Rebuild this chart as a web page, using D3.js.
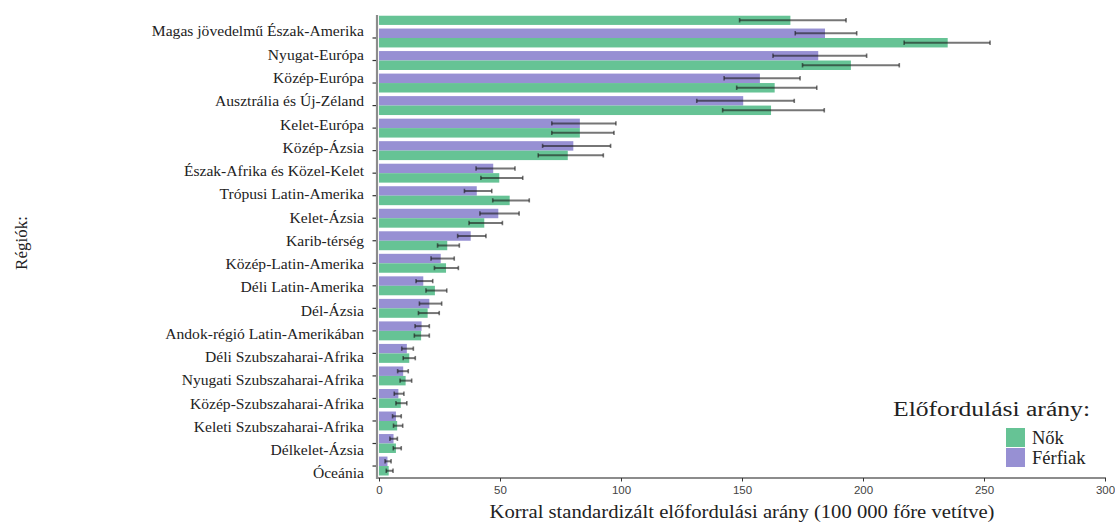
<!DOCTYPE html>
<html>
<head>
<meta charset="utf-8">
<script src="https://cdn.jsdelivr.net/npm/d3@7"></script>
<style>
  html, body { margin: 0; padding: 0; background: #fff; }
  svg { display: block; }
</style>
</head>
<body>
<svg id="chart" width="1115" height="525"></svg>
<script>
// Régiók (the first row is cut off at the top of the panel and carries no label)
const regions = [
  "",
  "Magas jövedelmű Észak-Amerika",
  "Nyugat-Európa",
  "Közép-Európa",
  "Ausztrália és Új-Zéland",
  "Kelet-Európa",
  "Közép-Ázsia",
  "Észak-Afrika és Közel-Kelet",
  "Trópusi Latin-Amerika",
  "Kelet-Ázsia",
  "Karib-térség",
  "Közép-Latin-Amerika",
  "Déli Latin-Amerika",
  "Dél-Ázsia",
  "Andok-régió Latin-Amerikában",
  "Déli Szubszaharai-Afrika",
  "Nyugati Szubszaharai-Afrika",
  "Közép-Szubszaharai-Afrika",
  "Keleti Szubszaharai-Afrika",
  "Délkelet-Ázsia",
  "Óceánia"
];

// Nők: rate, lower and upper bound
const womenRate = [170, 235, 195, 163.5, 162, 83, 78, 49.7, 54, 43.5, 28.2, 27.7, 23.1, 20.1, 17.4, 12.5, 11, 9, 7.5, 7, 4];
const womenLow  = [149, 217, 175, 147.8, 142, 71.4, 65.8, 42.1, 47, 37.2, 24.2, 22.9, 19.4, 16.3, 14.6, 10, 8.7, 7, 6, 5.9, 3];
const womenHigh = [193, 252.5, 215, 180.9, 184, 97.1, 92.7, 59.4, 62.1, 51, 33.2, 32.8, 28, 24.9, 20.8, 15, 13.5, 11.5, 9.8, 9.2, 5.8];

// Férfiak: rate, lower and upper bound
const menRate = [null, 184.3, 181.5, 157.4, 150.5, 83, 80.3, 47.2, 40.4, 49.3, 37.9, 25.5, 18.3, 20.8, 17.6, 11.5, 10, 8, 7, 6, 3.5];
const menLow  = [null, 172, 162.8, 142.6, 131.3, 71.4, 67.6, 40.1, 35.3, 41.7, 32.5, 21.5, 15.3, 16.7, 14.9, 9.4, 7.7, 6.3, 5.6, 4.5, 2.5];
const menHigh = [null, 197.4, 201.5, 174, 171.6, 97.9, 95.7, 56.2, 46.6, 57.9, 44.2, 31.1, 22.2, 25.9, 20.8, 14.2, 12.1, 10.3, 9.2, 7.6, 5];

const xTicks = [0, 50, 100, 150, 200, 250, 300];
const groups = ["Férfiak", "Nők"];
const legendKeys = ["Nők", "Férfiak"];

const colors = { "Nők": "#66c395", "Férfiak": "#9790d3" };

const serif = "'Liberation Serif', 'DejaVu Serif', serif";

const svg = d3.select("#chart");

const plot = { left: 379, right: 1105, top: 15.5, bottom: 478 };

const x = d3.scaleLinear().domain([0, 300]).range([plot.left, plot.right]);

const y = d3.scaleBand()
  .domain(regions)
  .range([4.2, 477.3])
  .paddingInner(0.16)
  .paddingOuter(0.08);

const ySub = d3.scaleBand().domain(groups).range([0, y.bandwidth()]);

// label rows are spaced a little wider than the bar rows
const yLabel = d3.scalePoint().domain(regions.slice(1)).range([31, 473]);

const rows = regions.map((r, i) => ({
  region: r,
  values: [
    { group: "Férfiak", v: menRate[i], lo: menLow[i], hi: menHigh[i] },
    { group: "Nők", v: womenRate[i], lo: womenLow[i], hi: womenHigh[i] }
  ].filter(d => d.v != null)
}));

svg.append("defs").append("clipPath").attr("id", "panel")
  .append("rect")
  .attr("x", plot.left - 2).attr("y", plot.top)
  .attr("width", plot.right - plot.left + 10).attr("height", plot.bottom - plot.top);

const panel = svg.append("g").attr("clip-path", "url(#panel)");

const rowG = panel.selectAll("g.row").data(rows).join("g")
  .attr("class", "row")
  .attr("transform", d => `translate(0,${y(d.region)})`);

rowG.selectAll("rect").data(d => d.values).join("rect")
  .attr("x", x(0))
  .attr("y", d => ySub(d.group))
  .attr("width", d => x(d.v) - x(0))
  .attr("height", ySub.bandwidth())
  .attr("fill", d => colors[d.group]);

// confidence intervals
const err = rowG.selectAll("g.err").data(d => d.values).join("g")
  .attr("class", "err")
  .attr("transform", d => `translate(0,${ySub(d.group) + ySub.bandwidth() / 2})`)
  .attr("stroke", "#1a1a1a")
  .attr("stroke-opacity", 0.6);

err.append("line")
  .attr("x1", d => x(d.lo)).attr("x2", d => x(d.hi))
  .attr("y1", 0).attr("y2", 0)
  .attr("stroke-width", 2);
err.append("line")
  .attr("x1", d => x(d.lo)).attr("x2", d => x(d.lo))
  .attr("y1", -2.2).attr("y2", 2.2)
  .attr("stroke-width", 1.6);
err.append("line")
  .attr("x1", d => x(d.hi)).attr("x2", d => x(d.hi))
  .attr("y1", -2.2).attr("y2", 2.2)
  .attr("stroke-width", 1.6);

// y axis line and ticks
svg.append("line")
  .attr("x1", plot.left - 2).attr("x2", plot.left - 2)
  .attr("y1", plot.top - 0.5).attr("y2", plot.bottom + 1)
  .attr("stroke", "#8c8c8c").attr("stroke-width", 2.2);

svg.append("g").selectAll("line").data(regions.slice(1)).join("line")
  .attr("x1", plot.left - 6.5).attr("x2", plot.left - 3)
  .attr("y1", d => y(d) + y.bandwidth() / 2)
  .attr("y2", d => y(d) + y.bandwidth() / 2)
  .attr("stroke", "#333").attr("stroke-width", 1.2);

svg.append("g").selectAll("text").data(regions.slice(1)).join("text")
  .attr("x", 364)
  .attr("y", d => yLabel(d))
  .attr("dy", "0.35em")
  .attr("text-anchor", "end")
  .attr("font-family", serif)
  .attr("font-size", 15.6)
  .attr("fill", "#222")
  .text(d => d);

// x axis
const xAxis = svg.append("g")
  .attr("transform", `translate(0,${plot.bottom})`)
  .call(d3.axisBottom(x).tickValues(xTicks).tickSize(3.5).tickSizeOuter(0).tickPadding(4));
xAxis.select(".domain").remove();
xAxis.insert("line", ":first-child")
  .attr("x1", plot.left - 3).attr("x2", plot.right + 1)
  .attr("y1", 0).attr("y2", 0)
  .attr("stroke", "#8c8c8c").attr("stroke-width", 2.2);
xAxis.selectAll(".tick line").attr("stroke", "#333");
xAxis.selectAll(".tick text")
  .attr("font-family", "'Liberation Sans Narrow', 'Liberation Sans', Arial, sans-serif")
  .attr("font-size", 11.5)
  .attr("fill", "#444");

// axis titles
svg.append("text")
  .attr("x", (plot.left + plot.right) / 2)
  .attr("y", 518)
  .attr("text-anchor", "middle")
  .attr("font-family", serif)
  .attr("font-size", 19.5)
  .attr("textLength", 505)
  .attr("lengthAdjust", "spacingAndGlyphs")
  .attr("fill", "#222")
  .text("Korral standardizált előfordulási arány (100 000 főre vetítve)");

svg.append("text")
  .attr("transform", "translate(27,243) rotate(-90)")
  .attr("text-anchor", "middle")
  .attr("font-family", serif)
  .attr("font-size", 17)
  .attr("fill", "#222")
  .text("Régiók:");

// legend
const legend = svg.append("g");
legend.append("text")
  .attr("x", 893).attr("y", 416)
  .attr("font-family", serif)
  .attr("font-size", 20)
  .attr("textLength", 197)
  .attr("lengthAdjust", "spacingAndGlyphs")
  .attr("fill", "#222")
  .text("Előfordulási arány:");

const legendY = d3.scaleBand().domain(legendKeys).range([428, 467]).paddingInner(0.05);
const item = legend.selectAll("g.item").data(legendKeys).join("g")
  .attr("class", "item")
  .attr("transform", d => `translate(1006,${legendY(d)})`);
item.append("rect")
  .attr("width", 19).attr("height", legendY.bandwidth())
  .attr("fill", d => colors[d]);
item.append("text")
  .attr("x", 26).attr("y", legendY.bandwidth() / 2)
  .attr("dy", "0.35em")
  .attr("font-family", serif)
  .attr("font-size", 18.5)
  .attr("fill", "#222")
  .text(d => d);
</script>
</body>
</html>
